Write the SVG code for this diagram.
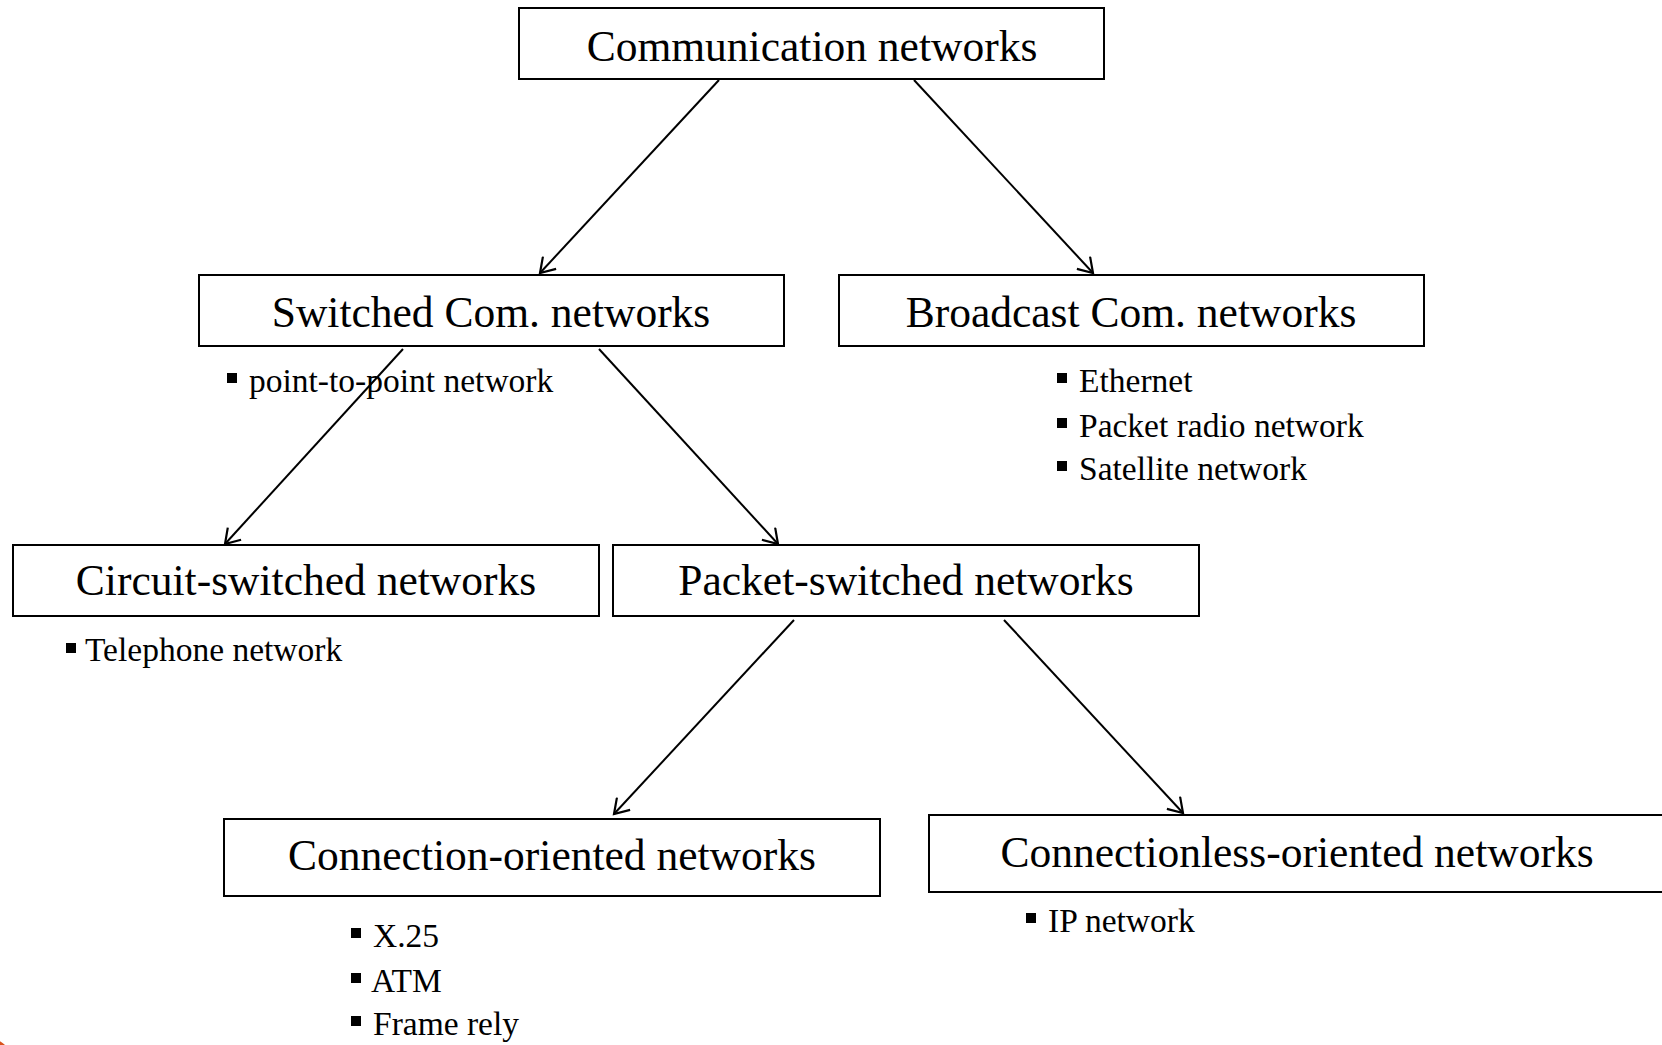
<svg xmlns="http://www.w3.org/2000/svg" width="1662" height="1045" viewBox="0 0 1662 1045">
<style>
.box{fill:#fff;stroke:#000;stroke-width:2}
.t{font-family:"Liberation Serif","Times New Roman",serif;font-size:43.5px;fill:#000;text-anchor:middle}
.b{font-family:"Liberation Serif","Times New Roman",serif;font-size:33.5px;fill:#000}
.sq{fill:#000}
.c{stroke:#000;stroke-width:2;fill:none;marker-end:url(#arr)}
</style>
<defs>
<marker id="arr" markerWidth="20" markerHeight="20" refX="17" refY="10" orient="auto" markerUnits="userSpaceOnUse">
<path d="M3,1 L17,10 L3,19" fill="none" stroke="#000" stroke-width="2.2"/>
</marker>
</defs>
<rect width="1662" height="1045" fill="#fff"/>
<circle cx="-15" cy="1066" r="29" fill="#D9541E"/>
<g id="connectors">
<line class="c" x1="719" y1="80" x2="540" y2="273"/>
<line class="c" x1="914" y1="80" x2="1093" y2="273"/>
<line class="c" x1="403" y1="349" x2="225" y2="544"/>
<line class="c" x1="599" y1="349" x2="778" y2="544"/>
<line class="c" x1="794" y1="620" x2="614" y2="814"/>
<line class="c" x1="1004" y1="620" x2="1183" y2="813"/>
</g>
<g id="n-comm">
<rect class="box" x="519" y="8" width="585" height="71"/>
<text class="t" x="812" y="61">Communication networks</text>
</g>
<g id="n-switched">
<rect class="box" x="199" y="275" width="585" height="71"/>
<text class="t" x="491" y="327">Switched Com. networks</text>
<rect class="sq" x="227" y="373" width="10" height="10"/>
<text class="b" x="249" y="392">point-to-point network</text>
</g>
<g id="n-broadcast">
<rect class="box" x="839" y="275" width="585" height="71"/>
<text class="t" x="1131" y="327">Broadcast Com. networks</text>
<rect class="sq" x="1057" y="373" width="10" height="10"/>
<text class="b" x="1079" y="392">Ethernet</text>
<rect class="sq" x="1057" y="418" width="10" height="10"/>
<text class="b" x="1079" y="437">Packet radio network</text>
<rect class="sq" x="1057" y="461" width="10" height="10"/>
<text class="b" x="1079" y="480">Satellite network</text>
</g>
<g id="n-circuit">
<rect class="box" x="13" y="545" width="586" height="71"/>
<text class="t" x="306" y="595">Circuit-switched networks</text>
<rect class="sq" x="66" y="643" width="10" height="10"/>
<text class="b" x="85" y="661">Telephone network</text>
</g>
<g id="n-packet">
<rect class="box" x="613" y="545" width="586" height="71"/>
<text class="t" x="906" y="595">Packet-switched networks</text>
</g>
<g id="n-connection">
<rect class="box" x="224" y="819" width="656" height="77"/>
<text class="t" x="552" y="870">Connection-oriented networks</text>
<rect class="sq" x="351" y="928" width="10" height="10"/>
<text class="b" x="373" y="947">X.25</text>
<rect class="sq" x="351" y="973" width="10" height="10"/>
<text class="b" x="371" y="992">ATM</text>
<rect class="sq" x="351" y="1016" width="10" height="10"/>
<text class="b" x="373" y="1035">Frame rely</text>
</g>
<g id="n-connectionless">
<path class="box" d="M1670,815 L929,815 L929,892 L1670,892"/>
<text class="t" x="1297" y="867">Connectionless-oriented networks</text>
<rect class="sq" x="1026" y="913" width="10" height="10"/>
<text class="b" x="1048" y="932">IP network</text>
</g>
</svg>
